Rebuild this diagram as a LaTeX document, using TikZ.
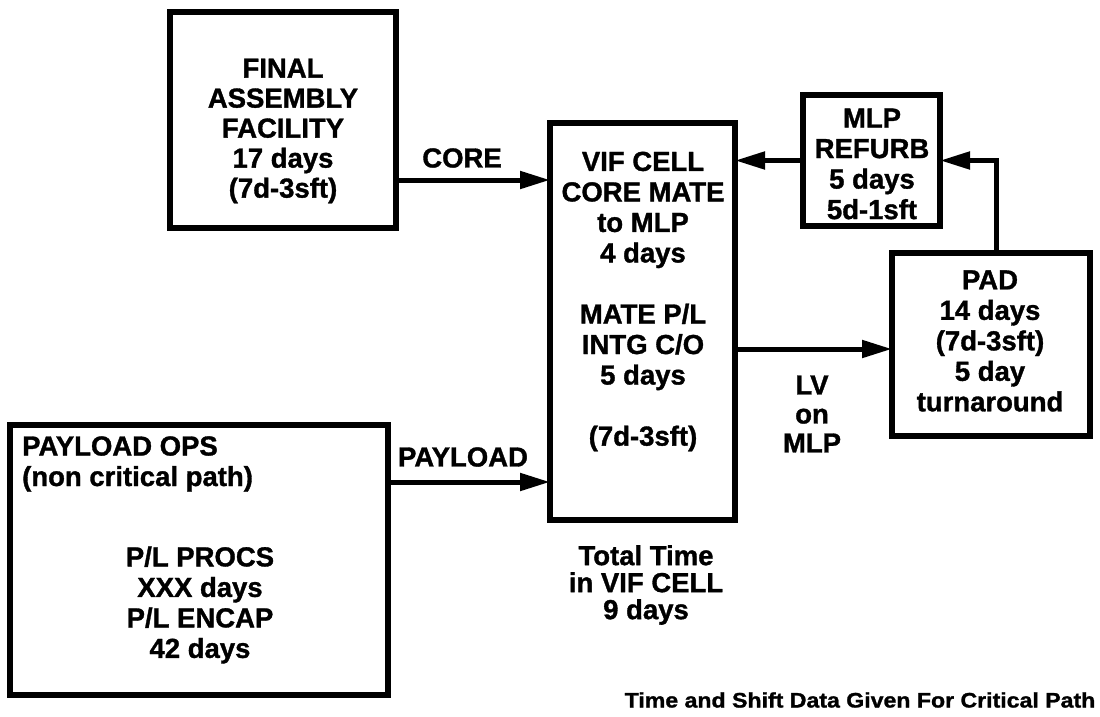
\documentclass[tikz,border=0pt]{standalone}
\usepackage{fontspec}
\setmainfont{Liberation Sans}[BoldFeatures={FakeBold=1.2}]
\usetikzlibrary{arrows.meta}
\begin{document}
\begin{tikzpicture}[x=1pt,y=-1pt,
  box/.style={draw,line width=5.5pt,inner sep=0pt,outer sep=0pt},
  txt/.style={inner sep=0pt,align=center,font=\fontsize{27.5}{30.5}\selectfont\bfseries},
  arr/.style={line width=5pt,-{Triangle[length=30pt,width=17pt]}}]
\path[use as bounding box] (0,0) rectangle (1100,717);
% boxes
\node[box,minimum width=226pt,minimum height=216pt] (faf) at (283,120) {};
\node[box,minimum width=185pt,minimum height=397pt] (vif) at (642.5,321.5) {};
\node[box,minimum width=137pt,minimum height=131pt] (mlp) at (871.5,160.5) {};
\node[box,minimum width=198pt,minimum height=183pt] (pad) at (991,344.5) {};
\node[box,minimum width=378pt,minimum height=270pt] (pay) at (199,560) {};
% box texts
\node[txt,font=\fontsize{27.5}{30}\selectfont\bfseries] (fafT) at (283,131) {FINAL\\ASSEMBLY\\FACILITY\\17 days\\(7d-3sft)};
\node[txt] (vifT) at (643,301.5) {VIF CELL\\CORE MATE\\to MLP\\4 days\\[30.6pt]MATE P/L\\INTG C/O\\5 days\\[30.6pt](7d-3sft)};
\node[txt] (mlpT) at (872,164) {MLP\\REFURB\\5 days\\5d-1sft};
\node[txt] (padT) at (990,341) {PAD\\14 days\\(7d-3sft)\\5 day\\turnaround};
\node[txt,align=left,anchor=west] (payT1) at (22,464) {PAYLOAD OPS\\(non critical path)};
\node[txt] (payT2) at (200,605) {P/L PROCS\\XXX days\\P/L ENCAP\\42 days};
% connectors
\coordinate (coreS) at ([yshift=-60pt]faf.east);
\draw[arr] (coreS) -- (coreS -| vif.west);
\coordinate (payS) at ([yshift=78pt]pay.east);
\draw[arr] (payS) -- (payS -| vif.west);
\draw[arr] (mlp.west) -- (mlp.west -| vif.east);
\coordinate (padS) at ([xshift=5pt]pad.north);
\draw[arr] (padS) |- (mlp.east);
\coordinate (lvS) at ([yshift=-27.5pt]vif.east);
\draw[arr] (lvS) -- (lvS -| pad.west);
% labels
\node[txt] (coreL) at (462,158) {CORE};
\node[txt] (payL) at (463,457) {PAYLOAD};
\node[txt,font=\fontsize{27.5}{29}\selectfont\bfseries] (lvL) at (812,414) {LV\\on\\MLP};
\node[txt,font=\fontsize{27.5}{27}\selectfont\bfseries] (totL) at (646,585) {Total Time\\in VIF CELL\\9 days};
\node[txt,font=\fontsize{21}{24}\selectfont\bfseries] (foot) at (860,700) {\scalebox{1.1}[1]{Time and Shift Data Given For Critical Path}};
\end{tikzpicture}
\end{document}
